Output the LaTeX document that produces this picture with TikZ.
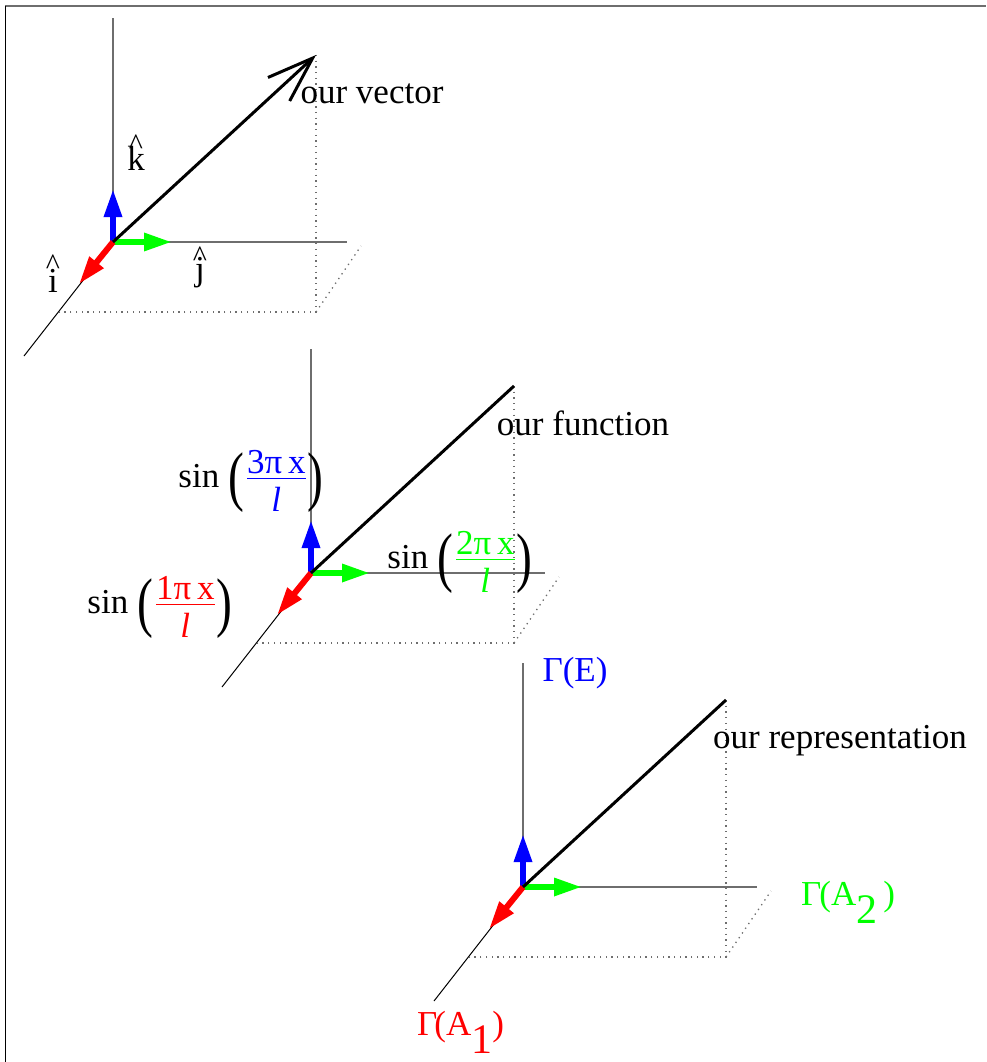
\RequirePackage{fix-cm}
\documentclass[tikz,border=0pt]{standalone}
\usepackage{amsmath}
\usepackage{fontspec}
\setmainfont{Liberation Serif}
\usetikzlibrary{arrows.meta}
\definecolor{pblue}{RGB}{0,0,255}
\definecolor{pgreen}{RGB}{0,255,0}
\definecolor{pred}{RGB}{255,0,0}
\definecolor{axgray}{RGB}{110,110,110}
\newcommand{\hatt}[2][17pt]{\setbox0\hbox{#2}\makebox[\wd0]{\raisebox{#1}{\fontsize{30}{32}\selectfont\textasciicircum}}\kern-\wd0\box0}
\newcommand{\bigpar}[1]{\raisebox{-11pt}{\scalebox{0.72}[1]{\fontsize{66}{70}\selectfont #1}}}
\newcommand{\sinfrac}[2]{sin \bigpar{(}\kern2pt\(\textcolor{#1}{\frac{\mbox{#2}}{\mbox{\rule{0pt}{0.9em}\itshape l}}}\)\kern1pt\bigpar{)}}
\tikzset{
  every node/.style={font=\fontsize{35}{42}\selectfont, inner sep=0pt},
  axisline/.style={line width=1.4pt, draw=axgray},
  diagline/.style={line width=1pt, draw=black},
  dotline/.style={line width=1.3pt, draw=axgray, dash pattern=on 1.3pt off 4.4pt},
  basis/.style={line width=6pt, -{Triangle[length=28pt,width=17pt]}},
  vecline/.style={line width=3pt, draw=black},
}
\newcommand{\triad}[2]{%
  \begin{scope}[shift={#2}]
    \coordinate (#1o) at (0,0);
    \coordinate (#1z) at (0,-224);
    \coordinate (#1y) at (234,0);
    \coordinate (#1x) at (-89,114);
    \coordinate (#1p) at (203,-187);
    \coordinate (#1q) at (203,70);
    \coordinate (#1r) at (-54,70);
    \coordinate (#1s) at (248,4);
    \coordinate (#1bk) at (0,-53);
    \coordinate (#1bj) at (59,0);
    \coordinate (#1bi) at (-34,42);
    \draw[axisline] (#1o) -- (#1z);
    \draw[axisline] (#1o) -- (#1y);
    \draw[diagline] (#1o) -- (#1x);
    \draw[dotline] (#1p) -- (#1q) -- (#1r);
    \draw[dotline] (#1q) -- (#1s);
    \draw[basis, pblue] (#1o) -- (#1bk);
    \draw[basis, pgreen] (#1o) -- (#1bj);
    \draw[basis, pred] (#1o) -- (#1bi);
  \end{scope}}
\begin{document}
\begin{tikzpicture}[x=1pt,y=-1pt]
\useasboundingbox (0,0) rectangle (986,1062);
\fill[white] (0,0) rectangle (986,1062);
% frame
\draw[line width=2pt, draw=axgray] (5,6.5) -- (986,6.5);
\draw[line width=1.6pt, draw=black] (5.5,6) -- (5.5,1062);

% diagram 1: vector
\triad{a}{(113,242)}
\draw[vecline, -{Straight Barb[length=46pt,width=32pt]}] (ao) -- (ap);
\node[anchor=base] (kl) at (136,170) {\hatt[16pt]{k}};
\node[anchor=base] (jl) at (200,280) {\hatt[14pt]{j}};
\node[anchor=base] (il) at (53,292) {\hatt[18pt]{i}};
\node[anchor=base] (vl) at (372,104) {our vector};

% diagram 2: function
\triad{b}{(311,573)}
\draw[vecline] (bo) -- (bp);
\node[anchor=base] (fl) at (583,435) {our function};
\node[anchor=base] (f3) at (251,487) {\sinfrac{pblue}{3π\,x}};
\node[anchor=base] (f2) at (460,568) {\sinfrac{pgreen}{2π\,x}};
\node[anchor=base] (f1) at (160,613) {\sinfrac{pred}{1π\,x}};

% diagram 3: representation
\triad{c}{(523,887)}
\draw[vecline] (co) -- (cp);
\node[anchor=base] (rl) at (840,748) {our representation};
\node[anchor=base, text=pblue] (gE) at (575,681) {Γ(E)};
\node[anchor=base west, text=pgreen] (gA2) at (801,905) {Γ\kern-2pt(A\raisebox{-18pt}{\fontsize{42}{44}\selectfont 2}\kern6pt)};
\node[anchor=base west, text=pred] (gA1) at (417,1035) {Γ\kern-3pt(A\raisebox{-18pt}{\fontsize{42}{44}\selectfont 1})};
\end{tikzpicture}
\end{document}
